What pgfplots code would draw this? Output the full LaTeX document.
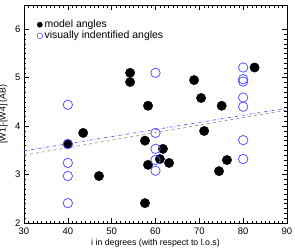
\documentclass[border=0pt]{standalone}
\usepackage{fontspec}
\setmainfont{Liberation Sans}
\usepackage{pgfplots}
\pgfplotsset{compat=1.18}
\definecolor{vblue}{RGB}{85,85,255}
\definecolor{lgray}{RGB}{150,150,150}
\begin{document}
\begin{tikzpicture}
\begin{axis}[
  scale only axis, width=263bp, height=218bp,
  xmin=30, xmax=90, ymin=2, ymax=6.5,
  xtick={30,40,...,90}, ytick={2,3,4,5,6},
  minor x tick num=9, minor y tick num=9,
  tick align=inside, xtick pos=both, ytick pos=both,
  major tick length=5bp, minor tick length=2.5bp,
  tick style={black, line width=0.4pt},
  axis line style={black, line width=0.6pt},
  /pgf/number format/assume math mode=true,
  tick label style={font=\fontsize{9.5}{10}\selectfont},
  xticklabel style={yshift=-1bp},
  xlabel={i in degrees (with respect to l.o.s)},
  ylabel={[W1]-[W4] (AB)},
  label style={font=\fontsize{8.8}{10}\selectfont},
  xlabel style={yshift=2bp},
  ylabel style={yshift=1bp},
  legend style={draw=none, fill=none, at={(0.045,0.945)}, anchor=north west,
    font=\fontsize{10.5}{11}\selectfont, row sep=-2bp, inner sep=1bp},
  legend cell align=left,
]
\addplot[only marks, mark=*, mark size=4.7bp, black, forget plot] coordinates {
(54.2,5.10) (54.2,4.91) (58.3,4.42) (68.8,4.95) (82.6,5.21) (70.4,4.58)
(75.1,4.42) (43.5,3.86) (40.0,3.63) (57.6,3.70) (58.3,3.20) (47.1,2.97)
(57.6,2.41) (71.1,3.90) (61.7,3.53) (61.0,3.32) (63.1,3.24) (74.5,3.07)
(76.3,3.30)
};
\addplot[only marks, mark=o, mark size=4.7bp, vblue, mark options={line width=0.8pt}, forget plot] coordinates {
(40,4.44) (60,5.10) (80,5.21) (80,4.97) (80,4.92) (80,4.59) (80,4.40)
(40,3.63) (40,3.24) (40,2.97) (40,2.41) (60,3.86) (80,3.71) (60,3.53)
(60,3.30) (60,3.08) (80,3.32)
};
\addplot[vblue, dash dot, line width=0.7pt, forget plot] coordinates {(30,3.49) (90,4.37)};
\addplot[lgray, dashed, line width=0.7pt, forget plot] coordinates {(30,3.40) (90,4.33)};
\addlegendimage{only marks, mark=*, mark size=2.6bp, black}
\addlegendentry{model angles}
\addlegendimage{only marks, mark=o, mark size=2.8bp, vblue, mark options={line width=0.6pt}}
\addlegendentry{visually indentified angles}
\end{axis}
\pgfresetboundingbox
\useasboundingbox ([xshift=-24bp,yshift=-26bp]current axis.south west) rectangle ([xshift=8bp,yshift=5bp]current axis.north east);
\end{tikzpicture}
\end{document}
